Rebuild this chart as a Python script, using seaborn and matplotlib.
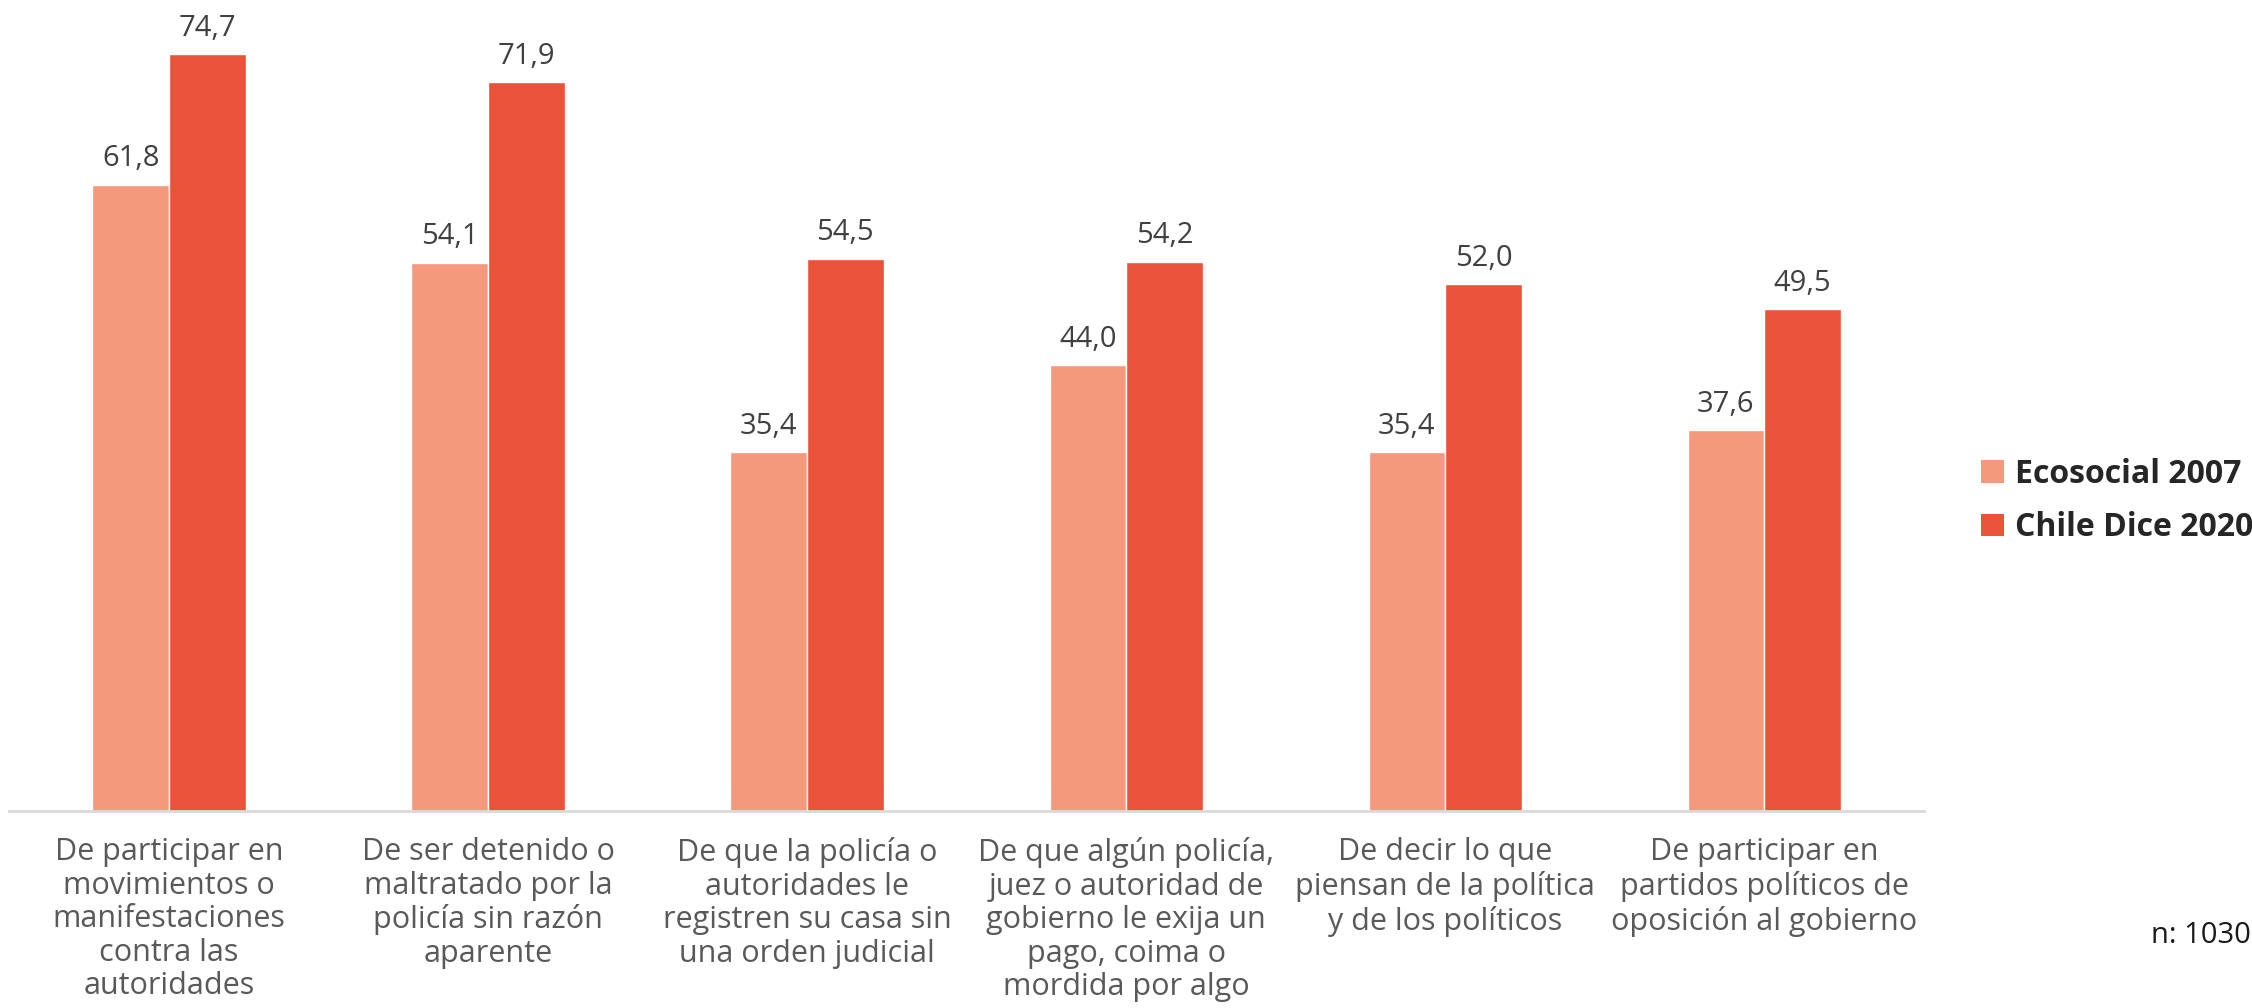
import numpy as np
import pandas as pd
import matplotlib.pyplot as plt
import seaborn as sns
from matplotlib.patches import Patch

categories = [
    "De participar en\nmovimientos o\nmanifestaciones\ncontra las\nautoridades",
    "De ser detenido o\nmaltratado por la\npolicía sin razón\naparente",
    "De que la policía o\nautoridades le\nregistren su casa sin\nuna orden judicial",
    "De que algún policía,\njuez o autoridad de\ngobierno le exija un\npago, coima o\nmordida por algo",
    "De decir lo que\npiensan de la política\ny de los políticos",
    "De participar en\npartidos políticos de\noposición al gobierno",
]
series_names = ["Ecosocial 2007", "Chile Dice 2020"]
ecosocial_2007 = [61.8, 54.1, 35.4, 44.0, 35.4, 37.6]
chile_dice_2020 = [74.7, 71.9, 54.5, 54.2, 52.0, 49.5]
colors = ["#F4997B", "#EA533A"]

df = pd.DataFrame({
    "Categoria": categories * 2,
    "Serie": [series_names[0]] * len(categories) + [series_names[1]] * len(categories),
    "Valor": ecosocial_2007 + chile_dice_2020,
})

sns.set_style("white")
plt.rcParams["font.family"] = ["Open Sans", "DejaVu Sans"]

fig = plt.figure(figsize=(22.52, 10.08), dpi=100)
ax = fig.add_axes([0.0042, 0.1954, 0.85, 0.8046])

sns.barplot(data=df, x="Categoria", y="Valor", hue="Serie", palette=colors,
            width=0.48, gap=0, saturation=1, legend=False, ax=ax)

for cont in ax.containers:
    labels = [f"{b.get_height():.1f}".replace(".", ",") for b in cont]
    ax.bar_label(cont, labels=labels, padding=8, fontsize=21, color="#404040")

ax.set_ylim(0, 80)
ax.set_xlim(-0.5, 5.5)
ax.set_xlabel("")
ax.set_ylabel("")
ax.set_yticks([])
for s in ["top", "right", "left"]:
    ax.spines[s].set_visible(False)
ax.spines["bottom"].set_color("#D9D9D9")
ax.spines["bottom"].set_linewidth(2)
ax.tick_params(axis="x", length=0, pad=19, labelsize=22, labelcolor="#595959")
for t in ax.get_xticklabels():
    t.set_linespacing(1.15)

handles = [Patch(facecolor=c, edgecolor="none") for c in colors]
fig.legend(handles, series_names, loc="center left", bbox_to_anchor=(0.867, 0.503),
           frameon=False, handlelength=0.7, handleheight=0.7, handletextpad=0.35,
           labelspacing=0.65, prop={"weight": "bold", "size": 23})

fig.text(0.955, 0.072, "n: 1030", fontsize=21, color="#1a1a1a", va="center")

fig.savefig("out.png", dpi=100, facecolor="white")
